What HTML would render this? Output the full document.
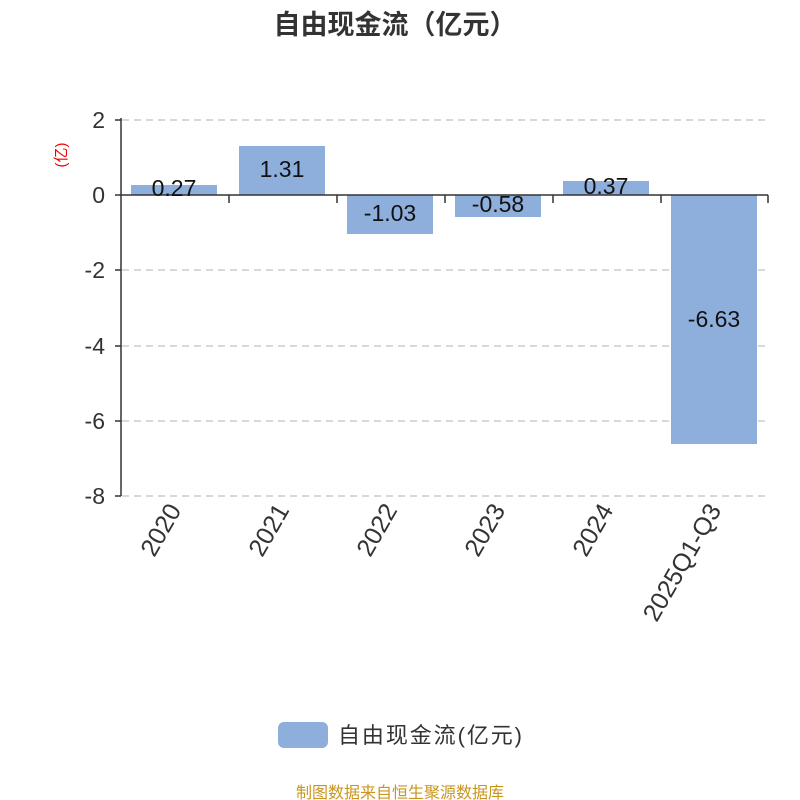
<!DOCTYPE html>
<html><head><meta charset="utf-8"><style>body{margin:0;background:#fff}svg{display:block}</style></head><body>
<svg width="800" height="800" xmlns="http://www.w3.org/2000/svg" font-family="Liberation Sans, Noto Sans CJK SC, sans-serif">
<rect width="800" height="800" fill="#fff"/>
<text x="395" y="34" text-anchor="middle" font-size="27" font-weight="bold" fill="#333">自由现金流（亿元）</text>
<text transform="translate(66,155) rotate(-90)" text-anchor="middle" font-size="15" fill="#e00">(亿)</text>
<g stroke="#ccc" stroke-dasharray="7,5" stroke-width="1.5">
<line x1="122" y1="120" x2="768" y2="120"/><line x1="122" y1="270" x2="768" y2="270"/><line x1="122" y1="346" x2="768" y2="346"/><line x1="122" y1="421" x2="768" y2="421"/><line x1="122" y1="496" x2="768" y2="496"/>
</g>
<g fill="#8eaedc">
<rect x="131" y="185" width="86" height="10"/><rect x="239" y="146" width="86" height="49"/><rect x="347" y="195" width="86" height="39"/><rect x="455" y="195" width="86" height="22"/><rect x="563" y="181" width="86" height="14"/><rect x="671" y="195" width="86" height="249"/>
</g>
<g stroke="#333" stroke-width="1.5">
<line x1="121" y1="118" x2="121" y2="496"/>
<line x1="115" y1="120" x2="121" y2="120"/><line x1="115" y1="195" x2="121" y2="195"/><line x1="115" y1="270" x2="121" y2="270"/><line x1="115" y1="346" x2="121" y2="346"/><line x1="115" y1="421" x2="121" y2="421"/><line x1="115" y1="496" x2="121" y2="496"/>
<line x1="121" y1="195" x2="768" y2="195"/>
<line x1="229" y1="195" x2="229" y2="203"/><line x1="337" y1="195" x2="337" y2="203"/><line x1="445" y1="195" x2="445" y2="203"/><line x1="553" y1="195" x2="553" y2="203"/><line x1="661" y1="195" x2="661" y2="203"/><line x1="768" y1="195" x2="768" y2="203"/>
</g>
<g font-size="23" fill="#333" text-anchor="end">
<text x="105" y="128">2</text><text x="105" y="203">0</text><text x="105" y="278">-2</text><text x="105" y="354">-4</text><text x="105" y="429">-6</text><text x="105" y="504">-8</text>
</g>
<g font-size="23" fill="#111" text-anchor="middle">
<text x="174" y="196">0.27</text><text x="282" y="177">1.31</text><text x="390" y="221">-1.03</text><text x="498" y="212">-0.58</text><text x="606" y="194">0.37</text><text x="714" y="327">-6.63</text>
</g>
<g font-size="25" fill="#333" text-anchor="end">
<text transform="translate(182,510) rotate(-60)">2020</text>
<text transform="translate(290,510) rotate(-60)">2021</text>
<text transform="translate(398,510) rotate(-60)">2022</text>
<text transform="translate(506,510) rotate(-60)">2023</text>
<text transform="translate(614,510) rotate(-60)">2024</text>
<text transform="translate(722,510) rotate(-60)">2025Q1-Q3</text>
</g>
<rect x="278" y="722" width="50" height="26" rx="6" fill="#8eaedc"/>
<text x="338" y="743" font-size="22" fill="#333" textLength="184">自由现金流(亿元)</text>
<text x="400" y="798" text-anchor="middle" font-size="16" fill="#c8961e">制图数据来自恒生聚源数据库</text>
</svg>
</body></html>
